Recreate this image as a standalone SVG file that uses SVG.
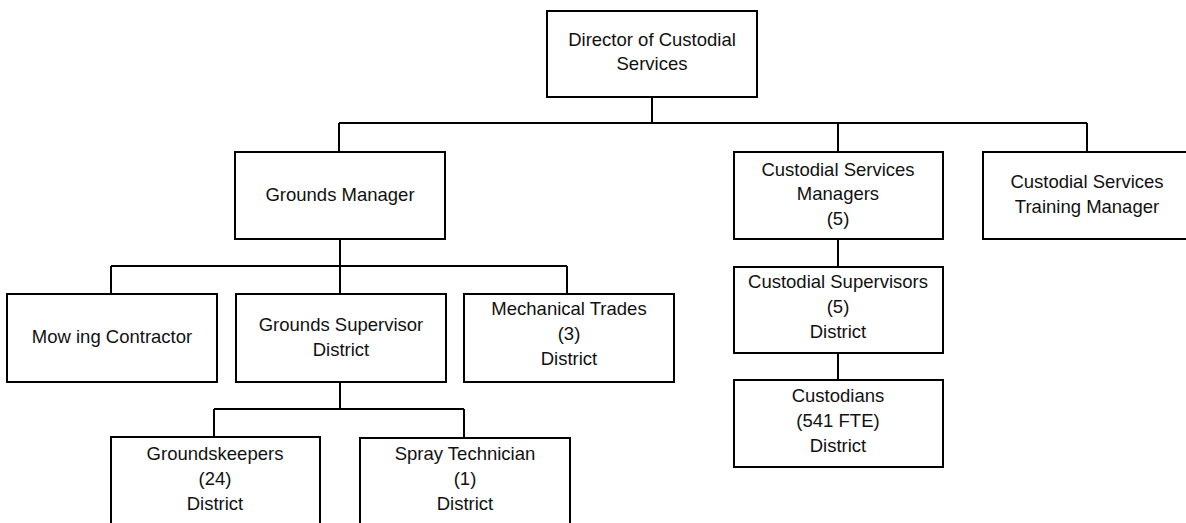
<svg xmlns="http://www.w3.org/2000/svg" width="1186" height="523" viewBox="0 0 1186 523">
<style>
.box{fill:#fff;stroke:#000;stroke-width:2}
.ln{fill:none;stroke:#000;stroke-width:2}
text{font-family:"Liberation Sans",Arial,sans-serif;font-size:18.5px;fill:#111;text-anchor:middle}
</style>
<rect width="1186" height="523" fill="#fff"/>
<g id="connectors">
<path class="ln" d="M652 97V123M339 123H1087M339 123V152M838 123V152M1087 123V152"/>
<path class="ln" d="M340 239V266M111 266H567M111 266V294M340 266V294M567 266V294"/>
<path class="ln" d="M340 382V409M214 409H464M214 409V437M464 409V438"/>
<path class="ln" d="M838 239V267M838 353V380"/>
</g>
<g id="director"><rect class="box" x="547" y="11" width="210" height="86"/><text x="652" y="46">Director of Custodial</text><text x="652" y="70">Services</text></g>
<g id="grounds-manager"><rect class="box" x="235" y="152" width="210" height="87"/><text x="340" y="201">Grounds Manager</text></g>
<g id="csm"><rect class="box" x="734" y="152" width="209" height="87"/><text x="838" y="176">Custodial Services</text><text x="838" y="200">Managers</text><text x="838" y="225">(5)</text></g>
<g id="training"><rect class="box" x="983" y="152" width="210" height="87"/><text x="1087" y="188">Custodial Services</text><text x="1087" y="213">Training Manager</text></g>
<g id="mowing"><rect class="box" x="7" y="294" width="210" height="88"/><text x="112" y="343">Mow ing Contractor</text></g>
<g id="grounds-supervisor"><rect class="box" x="236" y="294" width="210" height="88"/><text x="341" y="331">Grounds Supervisor</text><text x="341" y="356">District</text></g>
<g id="mechanical"><rect class="box" x="464" y="294" width="210" height="88"/><text x="569" y="315">Mechanical Trades</text><text x="569" y="340">(3)</text><text x="569" y="365">District</text></g>
<g id="custodial-supervisors"><rect class="box" x="734" y="267" width="209" height="86"/><text x="838" y="288">Custodial Supervisors</text><text x="838" y="313">(5)</text><text x="838" y="338">District</text></g>
<g id="custodians"><rect class="box" x="734" y="380" width="209" height="87"/><text x="838" y="402">Custodians</text><text x="838" y="427">(541 FTE)</text><text x="838" y="452">District</text></g>
<g id="groundskeepers"><rect class="box" x="111" y="437" width="209" height="90"/><text x="215" y="460">Groundskeepers</text><text x="215" y="485">(24)</text><text x="215" y="510">District</text></g>
<g id="spray"><rect class="box" x="360" y="438" width="210" height="90"/><text x="465" y="460">Spray Technician</text><text x="465" y="485">(1)</text><text x="465" y="510">District</text></g>
</svg>
